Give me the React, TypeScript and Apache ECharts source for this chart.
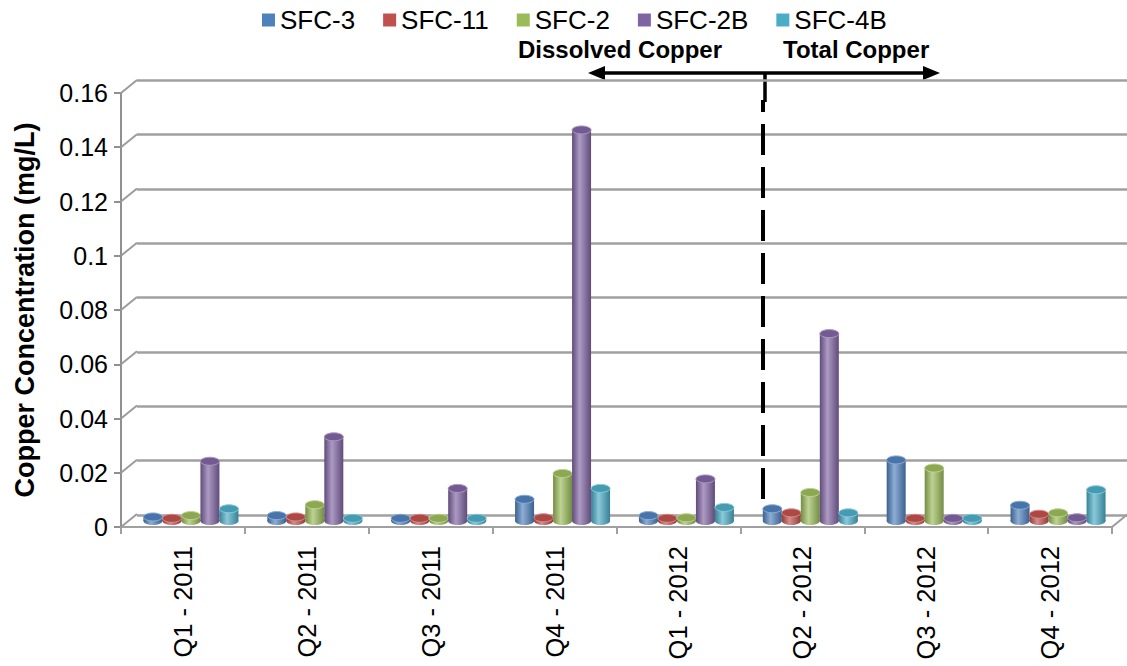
import React, { useEffect, useRef } from 'react';
import * as echarts from 'echarts';

const categories = ['Q1 - 2011', 'Q2 - 2011', 'Q3 - 2011', 'Q4 - 2011', 'Q1 - 2012', 'Q2 - 2012', 'Q3 - 2012', 'Q4 - 2012'];
const seriesNames = ['SFC-3', 'SFC-11', 'SFC-2', 'SFC-2B', 'SFC-4B'];
const sfc3 = [0.0015, 0.002, 0.001, 0.008, 0.002, 0.0045, 0.0225, 0.0058];
const sfc11 = [0.001, 0.0015, 0.001, 0.0012, 0.001, 0.003, 0.001, 0.0025];
const sfc2 = [0.002, 0.006, 0.001, 0.0175, 0.0012, 0.0105, 0.0195, 0.003];
const sfc2b = [0.022, 0.031, 0.012, 0.144, 0.0155, 0.069, 0.001, 0.0012];
const sfc4b = [0.0045, 0.001, 0.001, 0.012, 0.005, 0.003, 0.001, 0.0115];
const yTicks = [0, 0.02, 0.04, 0.06, 0.08, 0.1, 0.12, 0.14, 0.16];
const colors = ['#4F81BD', '#C0504D', '#9BBB59', '#8064A2', '#4BACC6'];

const FONT = '"Liberation Sans", Arial, sans-serif';

function shade(hex: string, f: number): string {
  const n = parseInt(hex.slice(1), 16);
  let r = (n >> 16) & 255, g = (n >> 8) & 255, b = n & 255;
  if (f >= 0) {
    r = Math.round(r + (255 - r) * f);
    g = Math.round(g + (255 - g) * f);
    b = Math.round(b + (255 - b) * f);
  } else {
    r = Math.round(r * (1 + f));
    g = Math.round(g * (1 + f));
    b = Math.round(b * (1 + f));
  }
  return `rgb(${r},${g},${b})`;
}

export default function App() {
  const ref = useRef<HTMLDivElement>(null);
  useEffect(() => {
    if (!ref.current) return;
    const chart = echarts.init(ref.current, undefined, { renderer: 'svg' });
    const values = [sfc3, sfc11, sfc2, sfc2b, sfc4b];
    const BW = 19;
    const GRID_W = 991;

    const cylinderSeries = values.map((vals, i) => {
      const base = colors[i];
      const light = shade(base, 0.35);
      const dark = shade(base, -0.25);
      return {
        type: 'custom',
        name: seriesNames[i],
        xAxisIndex: 2,
        yAxisIndex: 2,
        itemStyle: { color: base },
        data: vals.map((v, c) => [c, v]),
        encode: { x: 0, y: 1 },
        z: 5,
        renderItem: (params: any, api: any) => {
          const c = api.value(0);
          const v = api.value(1);
          const b = api.coord([c, 0]);
          const t = api.coord([c, v]);
          const cx = b[0] + (i - 2) * BW;
          const x = cx - BW / 2;
          const grad = () =>
            new echarts.graphic.LinearGradient(0, 0, 1, 0, [
              { offset: 0, color: dark },
              { offset: 0.4, color: light },
              { offset: 1, color: dark },
            ]);
          return {
            type: 'group',
            children: [
              { type: 'ellipse', shape: { cx, cy: b[1], rx: BW / 2, ry: 4 }, style: { fill: grad() } },
              { type: 'rect', shape: { x, y: t[1], width: BW, height: Math.max(0, b[1] - t[1]) }, style: { fill: grad() } },
              { type: 'ellipse', shape: { cx, cy: t[1], rx: BW / 2, ry: 4 }, style: { fill: shade(base, -0.1), stroke: light, lineWidth: 1 } },
            ],
          };
        },
      };
    });

    const diagSeries = {
      type: 'custom',
      name: 'diag',
      xAxisIndex: 0,
      yAxisIndex: 0,
      silent: true,
      z: 1,
      data: [...yTicks.map((v) => [0, v]), [categories.length - 1, 0]],
      encode: { x: 0, y: 1 },
      renderItem: (params: any, api: any) => {
        const c = api.value(0);
        const v = api.value(1);
        const p = api.coord([c, v]);
        const half = api.size([1, 0])[0] / 2;
        const x0 = c === 0 ? p[0] - half : p[0] + half;
        return {
          type: 'line',
          shape: { x1: x0, y1: p[1], x2: x0 + 16, y2: p[1] - 13 },
          style: { stroke: '#9C9C9C', lineWidth: 2 },
        };
      },
    };

    const hiddenCat = (gi: number) => ({
      type: 'category',
      gridIndex: gi,
      data: categories,
      show: false,
    });
    const hiddenVal = (gi: number, split: boolean) => ({
      type: 'value',
      gridIndex: gi,
      min: 0,
      max: 0.16,
      interval: 0.02,
      axisLabel: { show: false },
      axisLine: { show: false },
      axisTick: { show: false },
      splitLine: { show: split, lineStyle: { color: '#A0A0A0', width: 2.5 } },
    });

    chart.setOption({
      animation: false,
      backgroundColor: '#ffffff',
      textStyle: { fontFamily: FONT },
      legend: {
        data: seriesNames,
        left: 257,
        top: 2,
        icon: 'rect',
        itemWidth: 13,
        itemHeight: 13,
        itemGap: 28,
        textStyle: { fontSize: 26, color: '#000', fontFamily: FONT },
      },
      grid: [
        { left: 121, top: 93, width: GRID_W, height: 434, containLabel: false, outerBoundsMode: 'none' },
        { left: 137, top: 80, width: GRID_W, height: 435, containLabel: false, outerBoundsMode: 'none' },
        { left: 129, top: 86.5, width: GRID_W, height: 434.5, containLabel: false, outerBoundsMode: 'none' },
      ],
      xAxis: [
        {
          type: 'category',
          gridIndex: 0,
          data: categories,
          axisLine: { show: true, lineStyle: { color: '#A0A0A0', width: 2 } },
          axisTick: { show: true, length: 7, lineStyle: { color: '#A0A0A0', width: 2 } },
          axisLabel: { rotate: 90, margin: 19, fontSize: 25.5, color: '#000', fontFamily: FONT },
        },
        hiddenCat(1),
        hiddenCat(2),
      ],
      yAxis: [
        {
          type: 'value',
          gridIndex: 0,
          min: 0,
          max: 0.16,
          interval: 0.02,
          name: 'Copper Concentration (mg/L)',
          nameLocation: 'middle',
          nameGap: 83,
          nameRotate: 90,
          nameTextStyle: { fontSize: 27, fontWeight: 'bold', color: '#000', fontFamily: FONT },
          axisLine: { show: true, lineStyle: { color: '#909090', width: 2 } },
          axisTick: { show: true, length: 7, lineStyle: { color: '#909090', width: 2 } },
          axisLabel: {
            margin: 13,
            fontSize: 25,
            color: '#000',
            fontFamily: FONT,
            formatter: (v: number) => String(+v.toFixed(2)),
          },
          splitLine: { show: false },
        },
        hiddenVal(1, true),
        hiddenVal(2, false),
      ],
      series: [diagSeries, ...cylinderSeries],
      graphic: [
        {
          type: 'text',
          left: 518,
          top: 37,
          style: { text: 'Dissolved Copper', font: `bold 24px ${FONT}`, fill: '#000' },
        },
        {
          type: 'text',
          left: 783,
          top: 37,
          style: { text: 'Total Copper', font: `bold 24px ${FONT}`, fill: '#000' },
        },
        {
          type: 'line',
          shape: { x1: 600, y1: 73, x2: 928, y2: 73 },
          style: { stroke: '#000', lineWidth: 3.5 },
        },
        {
          type: 'polygon',
          shape: { points: [[588, 73], [605, 66], [605, 80]] },
          style: { fill: '#000' },
        },
        {
          type: 'polygon',
          shape: { points: [[940, 73], [923, 66], [923, 80]] },
          style: { fill: '#000' },
        },
        {
          type: 'line',
          shape: { x1: 765, y1: 73, x2: 765, y2: 102 },
          style: { stroke: '#000', lineWidth: 3.5 },
        },
        {
          type: 'line',
          shape: { x1: 763, y1: 499, x2: 763, y2: 100 },
          style: { stroke: '#000', lineWidth: 4, lineDash: [31, 12] },
          z: 10,
        },
      ],
    });
    return () => chart.dispose();
  }, []);
  return <div ref={ref} style={{ position: 'fixed', left: 0, top: 0, width: 1127, height: 666 }} />;
}
